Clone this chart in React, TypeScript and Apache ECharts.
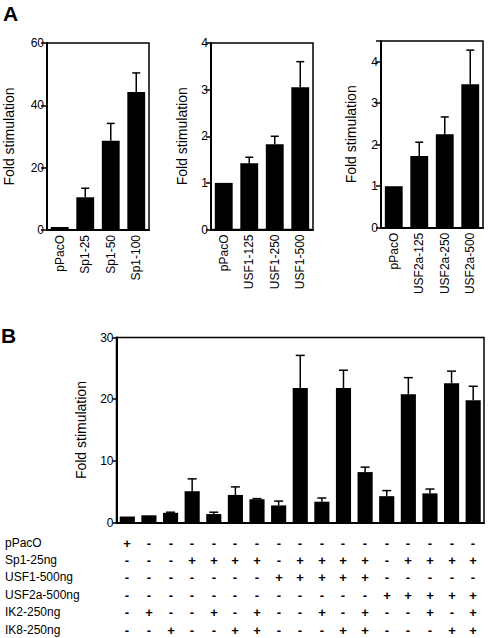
import React, { useEffect, useRef } from "react";
import * as echarts from "echarts";

const FONT = "'Liberation Sans', Arial, Helvetica, sans-serif";

// Panel A1
const a1Cats = ["pPacO", "Sp1-25", "Sp1-50", "Sp1-100"];
const a1Vals = [1, 10.5, 28.6, 44.3];
const a1Errs = [0, 2.9, 5.6, 6.1];
// Panel A2
const a2Cats = ["pPacO", "USF1-125", "USF1-250", "USF1-500"];
const a2Vals = [1, 1.42, 1.83, 3.05];
const a2Errs = [0, 0.13, 0.17, 0.55];
// Panel A3
const a3Cats = ["pPacO", "USF2a-125", "USF2a-250", "USF2a-500"];
const a3Vals = [1, 1.73, 2.25, 3.46];
const a3Errs = [0, 0.33, 0.42, 0.82];
// Panel B
const bVals = [1.0, 1.2, 1.6, 5.1, 1.4, 4.5, 3.8, 2.8, 21.8, 3.4, 21.8, 8.2, 4.3, 20.8, 4.75, 22.6, 19.85];
const bErrs = [0, 0, 0.1, 2.0, 0.3, 1.3, 0.1, 0.7, 5.3, 0.6, 2.9, 0.8, 0.9, 2.7, 0.7, 1.95, 2.25];
const rowNames = ["pPacO", "Sp1-25ng", "USF1-500ng", "USF2a-500ng", "IK2-250ng", "IK8-250ng"];
const rowPacO = "+----------------";
const rowSp1 = "---++++-++++-++++";
const rowUSF1 = "-------+++++-----";
const rowUSF2a = "------------+++++";
const rowIK2 = "-+--+-+--+-+--+-+";
const rowIK8 = "--+--++---++---++";
const rows = [rowPacO, rowSp1, rowUSF1, rowUSF2a, rowIK2, rowIK8];

const yName = "Fold stimulation";

export default function App() {
  const ref = useRef<HTMLDivElement>(null);
  useEffect(() => {
    if (!ref.current) return;
    const chart = echarts.init(ref.current, undefined, { renderer: "svg" });

    const grids = [
      { left: 47, top: 43, width: 102, height: 187 },
      { left: 211, top: 43, width: 102, height: 186.5 },
      { left: 381, top: 41, width: 102, height: 186.7 },
      { left: 116.5, top: 337.5, width: 367.5, height: 185.2 },
    ].map((g) => ({ ...g, show: true, borderColor: "#000", borderWidth: 1.5, backgroundColor: "transparent" }));

    const baseX = (gi: number, cats: string[], showLabel: boolean) => ({
      type: "category",
      gridIndex: gi,
      data: cats,
      axisLine: { show: true, lineStyle: { color: "#000", width: 2 } },
      axisTick: { show: false },
      axisLabel: {
        show: showLabel,
        rotate: 90,
        interval: 0,
        margin: 5,
        color: "#000",
        fontSize: 12,
        fontFamily: FONT,
      },
      splitLine: { show: false },
    });

    const baseY = (gi: number, max: number, interval: number, gap: number, tickLen: number) => ({
      type: "value",
      gridIndex: gi,
      min: 0,
      max,
      interval,
      name: yName,
      nameLocation: "middle",
      nameGap: gap,
      nameTextStyle: { color: "#000", fontSize: 14, fontFamily: FONT },
      axisLine: { show: true, lineStyle: { color: "#000", width: 2 } },
      axisTick: { show: true, length: tickLen, lineStyle: { color: "#000", width: 1.5 } },
      axisLabel: {
        color: "#000",
        fontSize: 12,
        fontFamily: FONT,
        margin: 3,
        formatter: (v: number) => (v > max - 1e-9 && max % interval !== 0 ? "" : String(v)),
      },
      splitLine: { show: false },
    });

    const bIdx = bVals.map((_, i) => String(i));

    const errSeries = (ai: number, vals: number[], errs: number[], cap: number) => ({
      type: "custom",
      xAxisIndex: ai,
      yAxisIndex: ai,
      data: vals.map((v, i) => [i, v, v + errs[i]]),
      renderItem: (_p: any, api: any) => {
        const i = api.value(0);
        const v = api.value(1);
        const t = api.value(2);
        if (t - v <= 0) return { type: "group", children: [] };
        const p0 = api.coord([i, v]);
        const p1 = api.coord([i, t]);
        const st = { stroke: "#000", lineWidth: 1.5 };
        return {
          type: "group",
          children: [
            { type: "line", shape: { x1: p0[0], y1: p0[1], x2: p1[0], y2: p1[1] }, style: st },
            { type: "line", shape: { x1: p1[0] - cap / 2, y1: p1[1], x2: p1[0] + cap / 2, y2: p1[1] }, style: st },
          ],
        };
      },
      z: 3,
    });

    const barSeries = (ai: number, vals: number[]) => ({
      type: "bar",
      xAxisIndex: ai,
      yAxisIndex: ai,
      data: vals,
      barWidth: "70%",
      itemStyle: { color: "#000" },
      z: 2,
    });

    const rowY = rows.map((_, i) => Math.round(542.5 + i * 17.4));
    const baseGraphics: any[] = [
      { type: "text", left: 3, top: 3, style: { text: "A", font: `bold 21px ${FONT}`, fill: "#000" } },
      { type: "text", left: 1, top: 325, style: { text: "B", font: `bold 21px ${FONT}`, fill: "#000" } },
      ...rowNames.map((n, i) => ({
        type: "text",
        x: 5,
        y: rowY[i],
        style: { text: n, font: `12px ${FONT}`, fill: "#000", verticalAlign: "middle", align: "left" },
      })),
    ];

    chart.setOption({
      animation: false,
      backgroundColor: "#fff",
      grid: grids,
      xAxis: [
        baseX(0, a1Cats, true),
        baseX(1, a2Cats, true),
        baseX(2, a3Cats, true),
        baseX(3, bIdx, false),
      ],
      yAxis: [
        baseY(0, 60, 20, 31, 6),
        baseY(1, 4, 1, 22, 5),
        baseY(2, 4.5, 1, 23, 5),
        baseY(3, 30, 10, 29, 4),
      ],
      series: [
        barSeries(0, a1Vals),
        errSeries(0, a1Vals, a1Errs, 8),
        barSeries(1, a2Vals),
        errSeries(1, a2Vals, a2Errs, 8),
        barSeries(2, a3Vals),
        errSeries(2, a3Vals, a3Errs, 8),
        barSeries(3, bVals),
        errSeries(3, bVals, bErrs, 9),
      ],
      graphic: baseGraphics,
    });

    const signGraphics: any[] = [];
    rows.forEach((r, ri) => {
      bIdx.forEach((_c, ci) => {
        const px = chart.convertToPixel({ xAxisIndex: 3 }, ci) as unknown as number;
        signGraphics.push({
          type: "text",
          x: Math.round(px),
          y: rowY[ri],
          style: {
            text: r.charAt(ci),
            font: `bold 13px ${FONT}`,
            fill: "#000",
            align: "center",
            verticalAlign: "middle",
          },
        });
      });
    });
    chart.setOption({ graphic: [...baseGraphics, ...signGraphics] });

    return () => chart.dispose();
  }, []);
  return (
    <div
      ref={ref}
      style={{ position: "fixed", left: 0, top: 0, width: 488, height: 638, background: "#fff" }}
    />
  );
}
